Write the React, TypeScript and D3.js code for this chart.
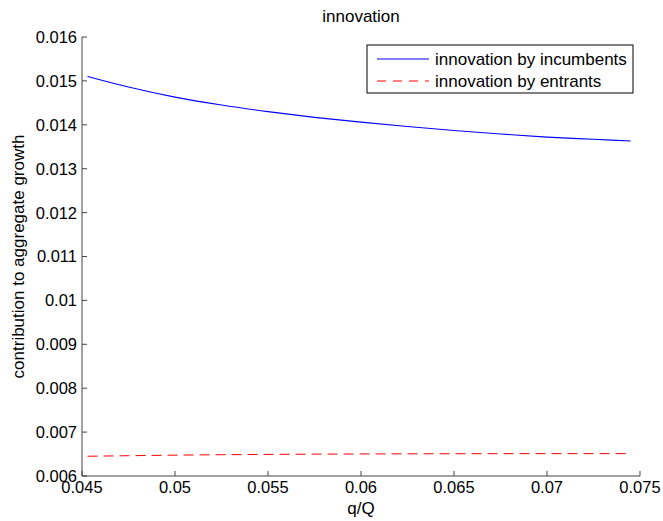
import React from "react";
import * as d3 from "d3";

const qQ = [0.0453, 0.0475, 0.05, 0.0525, 0.055, 0.0575, 0.06, 0.0625, 0.065, 0.0675, 0.07, 0.0725, 0.0745];
const incumbents = [0.0151, 0.01486, 0.01463, 0.01445, 0.0143, 0.01417, 0.01406, 0.01396, 0.01387, 0.01379, 0.01372, 0.01367, 0.01363];
const entrants = [0.00645, 0.006462, 0.006475, 0.006485, 0.006492, 0.006498, 0.006502, 0.006505, 0.006507, 0.006509, 0.00651, 0.00651, 0.00651];
const xTicks = [0.045, 0.05, 0.055, 0.06, 0.065, 0.07, 0.075];
const yTicks = [0.006, 0.007, 0.008, 0.009, 0.01, 0.011, 0.012, 0.013, 0.014, 0.015, 0.016];
const legendLabels = ["innovation by incumbents", "innovation by entrants"];

const W = 663, H = 521;
const L = 82, R = 640, T = 37, B = 476;
const FONT = "'Liberation Sans', Arial, sans-serif";
const FS = 16.5;
const FS2 = 17;

export default function App() {
  const x = d3.scaleLinear().domain([0.045, 0.075]).range([L, R]);
  const y = d3.scaleLinear().domain([0.006, 0.016]).range([B, T]);
  const line = d3.line<[number, number]>().x(d => x(d[0])).y(d => y(d[1])).curve(d3.curveMonotoneX);
  const blue = line(qQ.map((v, i) => [v, incumbents[i]]) as [number, number][]) || "";
  const red = line(qQ.map((v, i) => [v, entrants[i]]) as [number, number][]) || "";
  const axisColor = "#444";
  return (
    <svg width={W} height={H} style={{ position: "absolute", left: 0, top: 0, background: "#fff" }} fontFamily={FONT}>
      <rect x={0} y={0} width={W} height={H} fill="#fff" />
      <text x={(L + R) / 2} y={22} textAnchor="middle" fontSize={FS2}>innovation</text>
      <path d={blue} fill="none" stroke="#0000ff" strokeWidth={1.1} />
      <path d={red} fill="none" stroke="#ff0000" strokeWidth={1} strokeDasharray="10,6" />
      <line x1={L} x2={L} y1={T} y2={B} stroke={axisColor} strokeWidth={1} />
      <line x1={L} x2={R} y1={B} y2={B} stroke={axisColor} strokeWidth={1} />
      {yTicks.map(t => (
        <g key={"y" + t}>
          <line x1={L} x2={L + 5} y1={y(t)} y2={y(t)} stroke={axisColor} />
          <text x={L - 5} y={y(t)} dy="0.36em" textAnchor="end" fontSize={FS}>{String(+t.toFixed(3))}</text>
        </g>
      ))}
      {xTicks.map(t => (
        <g key={"x" + t}>
          <line x1={x(t)} x2={x(t)} y1={B} y2={B - 5} stroke={axisColor} />
          <text x={x(t)} y={B + 17} textAnchor="middle" fontSize={FS}>{String(+t.toFixed(3))}</text>
        </g>
      ))}
      <text x={(L + R) / 2} y={514} textAnchor="middle" fontSize={FS2}>q/Q</text>
      <text transform={`translate(24,${(T + B) / 2}) rotate(-90)`} textAnchor="middle" fontSize={FS2}>contribution to aggregate growth</text>
      <g>
        <rect x={367} y={45} width={266} height={48} fill="#fff" stroke="#000" strokeWidth={1} />
        <line x1={377} x2={429} y1={59} y2={59} stroke="#0000ff" strokeWidth={1.1} />
        <line x1={377} x2={429} y1={81} y2={81} stroke="#ff0000" strokeWidth={1} strokeDasharray="9,7" />
        <text x={435} y={59} dy="0.36em" fontSize={FS2}>{legendLabels[0]}</text>
        <text x={435} y={81} dy="0.36em" fontSize={FS2}>{legendLabels[1]}</text>
      </g>
    </svg>
  );
}
